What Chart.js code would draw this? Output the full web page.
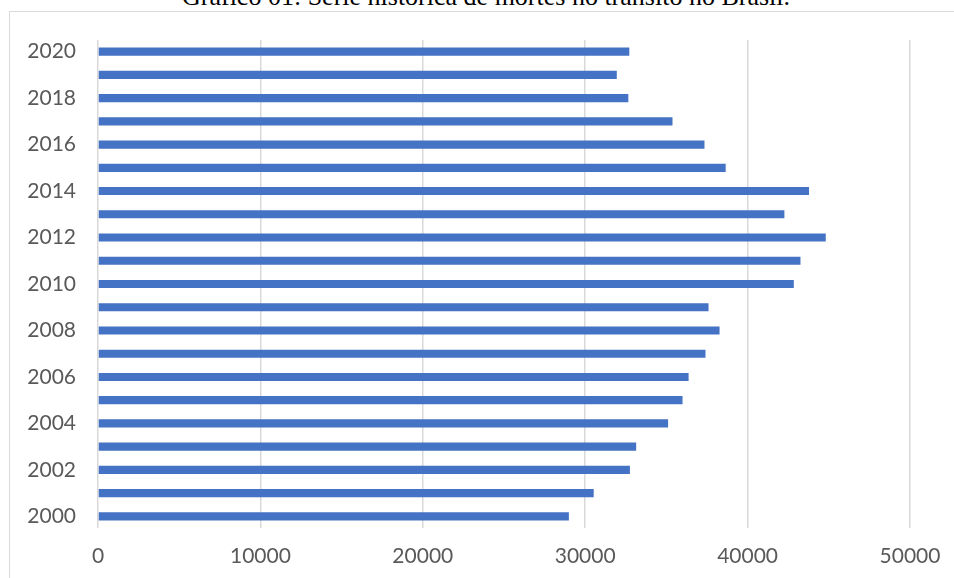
<!DOCTYPE html>
<html>
<head>
<meta charset="utf-8">
<script src="https://cdn.jsdelivr.net/npm/chart.js@4"></script>
<style>
  html, body { margin: 0; padding: 0; background: #fff; overflow: hidden; }
  #wrap { position: relative; width: 954px; height: 578px; }
  #frame { position: absolute; left: 9px; top: 11px; width: 960px; height: 600px; border: 1.5px solid #d9d9d9; box-sizing: border-box; }
  #title { position: absolute; left: 0; width: 972px; top: -16px; text-align: center; font-family: "Liberation Serif", "Times New Roman", serif; font-size: 26px; color: #000; line-height: 26px; white-space: nowrap; }
  canvas { position: absolute; left: 0; top: 0; }
</style>
</head>
<body>
<div id="wrap">
  <div id="frame"></div>
  <div id="title">Gráfico 01: Série histórica de mortes no trânsito no Brasil.</div>
  <canvas id="c" width="954" height="578"></canvas>
</div>
<script>
const years = ["2000","2001","2002","2003","2004","2005","2006","2007","2008","2009","2010","2011","2012","2013","2014","2015","2016","2017","2018","2019","2020"];
const deaths = [28995, 30524, 32753, 33139, 35105, 35994, 36367, 37407, 38273, 37594, 42844, 43256, 44812, 42266, 43780, 38651, 37345, 35375, 32655, 31945, 32716];
const xTicks = [0, 10000, 20000, 30000, 40000, 50000];

new Chart(document.getElementById('c'), {
  type: 'bar',
  data: {
    labels: years,
    datasets: [{
      data: deaths,
      backgroundColor: '#4472C4',
      borderWidth: 0,
      categoryPercentage: 1,
      barPercentage: 0.35
    }]
  },
  options: {
    indexAxis: 'y',
    responsive: false,
    animation: false,
    layout: { padding: { top: 40, right: 44, left: 0, bottom: 0 } },
    plugins: { legend: { display: false }, tooltip: { enabled: false }, title: { display: false } },
    scales: {
      x: {
        min: xTicks[0],
        max: xTicks[xTicks.length - 1],
        afterBuildTicks: (s) => { s.ticks = xTicks.map(v => ({ value: v })); },
        grid: { color: '#d9d9d9', lineWidth: 1.5, drawTicks: false },
        border: { display: false },
        ticks: { color: '#595959', font: { family: 'Lato', size: 21 }, padding: 16, maxRotation: 0,
          callback: (v) => String(v) },
        afterFit: (s) => { s.height = 50; s.paddingRight = 0; s.paddingLeft = 0; }
      },
      y: {
        reverse: true,
        grid: { display: false, drawTicks: false },
        border: { display: false },
        ticks: {
          autoSkip: false,
          color: '#595959',
          font: { family: 'Lato', size: 21 },
          padding: 22,
          callback: function (v) { const l = this.getLabelForValue(v); return (parseInt(l) % 2 === 0) ? l : ''; }
        },
        afterFit: (s) => { s.width = 98; }
      }
    }
  }
});
</script>
</body>
</html>
